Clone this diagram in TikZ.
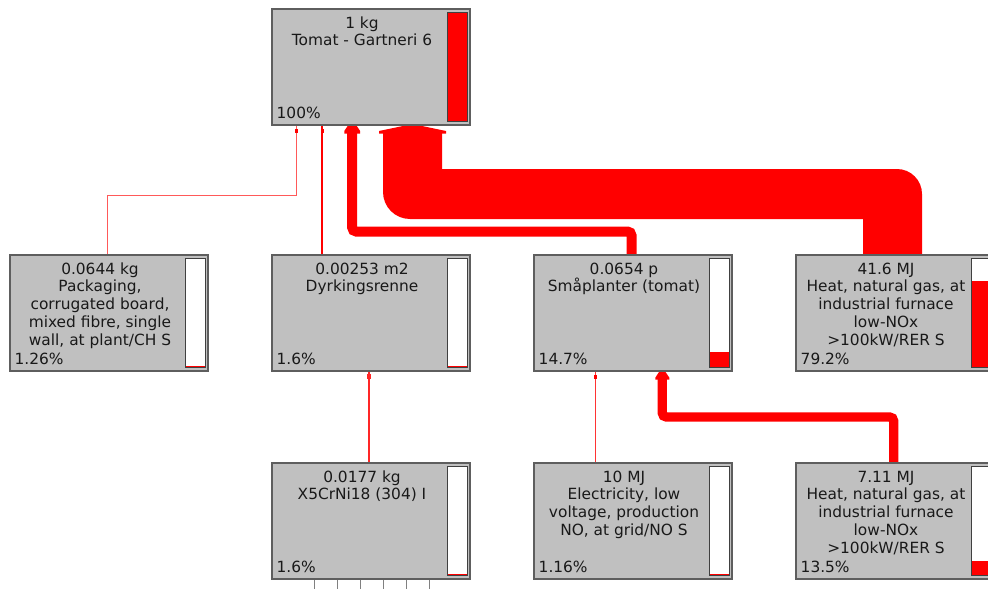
\documentclass[tikz,border=0pt]{standalone}
\usepackage{fontspec}
\setmainfont{DejaVu Sans}
\usetikzlibrary{calc}
\pgfdeclarelayer{bg}
\pgfsetlayers{bg,main}
\definecolor{nodegray}{HTML}{C0C0C0}
\definecolor{edgegray}{HTML}{5E5E5E}
\definecolor{pred}{HTML}{FF0000}
\newcommand\ptfont{\fontsize{15.4}{17.7}\selectfont}
\tikzset{
 proc/.style={draw=edgegray, fill=nodegray, line width=1.4pt, minimum width=198pt, minimum height=116pt, anchor=north west, inner sep=0pt, outer sep=0pt},
 ptext/.style={align=center, anchor=north, inner sep=0pt, font=\ptfont, text=black!90},
 pctext/.style={anchor=base west, inner sep=0pt, font=\ptfont, text=black!90},
 barframe/.style={draw=black!75, line width=1pt},
 thinconn/.style={draw=pred, line width=1pt},
 thickconn/.style={draw=pred, line cap=butt, rounded corners=4pt},
 stub/.style={draw=gray, line width=1pt},
}
\newcommand\procbox[6]{%
 \node[proc] (#1) at (#2,#3) {};
 \fill[white] ($(#1.north west)+(175.5,3.3)$) rectangle ($(#1.north west)+(195.5,112.7)$);
 \fill[pred] ($(#1.north west)+(175.5,{112.7-109.4*#6})$) rectangle ($(#1.north west)+(195.5,112.7)$);
 \draw[barframe] ($(#1.north west)+(175.5,3.3)$) rectangle ($(#1.north west)+(195.5,112.7)$);
 \node[ptext] (#1-t) at ($(#1.north west)+(90,7)$) {\rule{0pt}{12pt}#4};
 \node[pctext] (#1-p) at ($(#1.south west)+(4.5,-6.3)$) {#5};
}
\begin{document}
\begin{tikzpicture}[x=1pt,y=-1pt]
\clip (0,0) rectangle (988,589);
\begin{pgfonlayer}{bg}
\fill[white] (0,0) rectangle (988,589);
\end{pgfonlayer}
\procbox{top}{272}{9}{1 kg\\Tomat - Gartneri 6}{100\%}{1}
\procbox{pk}{10}{255}{0.0644 kg\\Packaging,\\corrugated board,\\mixed fibre, single\\wall, at plant/CH S}{1.26\%}{0.0126}
\procbox{dy}{272}{255}{0.00253 m2\\Dyrkingsrenne}{1.6\%}{0.016}
\procbox{sp}{534}{255}{0.0654 p\\Småplanter (tomat)}{14.7\%}{0.147}
\procbox{h1}{796}{255}{41.6 MJ\\Heat, natural gas, at\\industrial furnace\\low-NOx\\>100kW/RER S}{79.2\%}{0.792}
\procbox{x5}{272}{463}{0.0177 kg\\X5CrNi18 (304) I}{1.6\%}{0.016}
\procbox{el}{534}{463}{10 MJ\\Electricity, low\\voltage, production\\NO, at grid/NO S}{1.16\%}{0.0116}
\procbox{h2}{796}{463}{7.11 MJ\\Heat, natural gas, at\\industrial furnace\\low-NOx\\>100kW/RER S}{13.5\%}{0.135}
\begin{pgfonlayer}{bg}
 % big heat flow
 \coordinate (he) at ($(top.south west)+(140.5,0)$);
 \coordinate (hs) at ($(h1.north west)+(96.5,0)$);
 \fill[pred] ($(he)+(-29.5,8)$) -- ($(he)+(-29.5,67)$)
   .. controls ($(he)+(-29.5,81.9)$) and ($(he)+(-17.4,94)$) .. ($(he)+(-2.5,94)$)
   -- ($(hs)+(-29.5,-36)$) -- ($(hs)+(-29.5,0)$) -- ($(hs)+(29.5,0)$) -- ($(hs)+(29.5,-61)$)
   .. controls ($(hs)+(29.5,-74.8)$) and ($(hs)+(18.3,-86)$) .. ($(hs)+(4.5,-86)$)
   -- ($(he)+(29.5,44)$) -- ($(he)+(29.5,8)$) -- cycle;
 \fill[pred] ($(he)+(-33.5,8.5)$) -- ($(he)+(-33.5,6)$) -- ($(he)+(0,-1)$) -- ($(he)+(33.5,6)$) -- ($(he)+(33.5,8.5)$) -- cycle;
 % smaaplanter flow
 \draw[thickconn, line width=10pt] ($(sp.north west)+(97.5,0)$) |- ($(top.south west)+(80.2,106.5)$) -- ($(top.south west)+(80.2,8)$);
 \fill[pred] ($(top.south west)+(72.3,8.5)$) -- ($(top.south west)+(72.3,6)$) -- ($(top.south west)+(80.2,-6)$) -- ($(top.south west)+(88.1,6)$) -- ($(top.south west)+(88.1,8.5)$) -- cycle;
 % heat 7.11 flow
 \draw[thickconn, line width=9.3pt] ($(h2.north west)+(97.7,0)$) |- ($(sp.south west)+(128.3,46)$) -- ($(sp.south west)+(128.3,8)$);
 \fill[pred] ($(sp.south west)+(121.3,8.5)$) -- ($(sp.south west)+(121.3,6.7)$) -- ($(sp.south west)+(128.3,-4)$) -- ($(sp.south west)+(135.3,6.7)$) -- ($(sp.south west)+(135.3,8.5)$) -- cycle;
 % thin flows
 \draw[thinconn, draw=pred!65] ($(pk.north west)+(97.3,0)$) |- ($(top.south west)+(24.7,70)$) -- ($(top.south west)+(24.7,0)$);
 \fill[pred] ($(top.south west)+(23.2,4)$) rectangle ($(top.south west)+(26.2,8)$);
 \draw[thinconn, line width=1.3pt] ($(dy.north west)+(50,0)$) -- ($(top.south west)+(50,0)$);
 \fill[pred] ($(top.south west)+(48.5,4)$) rectangle ($(top.south west)+(51.5,8)$);
 \draw[thinconn, draw=pred!80] ($(el.north west)+(61.3,0)$) -- ($(sp.south west)+(61.3,0)$);
 \fill[pred] ($(sp.south west)+(59.8,4)$) rectangle ($(sp.south west)+(62.8,8)$);
 \draw[thinconn, draw=pred!85, line width=2.2pt] ($(x5.north west)+(97,0)$) -- ($(dy.south west)+(97,0)$);
 \fill[pred!85] ($(dy.south west)+(94.8,3)$) rectangle ($(dy.south west)+(99.1,8)$);
 % stubs below X5CrNi18
 \foreach \i in {0,...,5} {
  \draw[stub] ($(x5.south west)+({42.3+22.95*\i},0)$) -- ++(0,12);
 }
\end{pgfonlayer}
\end{tikzpicture}
\end{document}
